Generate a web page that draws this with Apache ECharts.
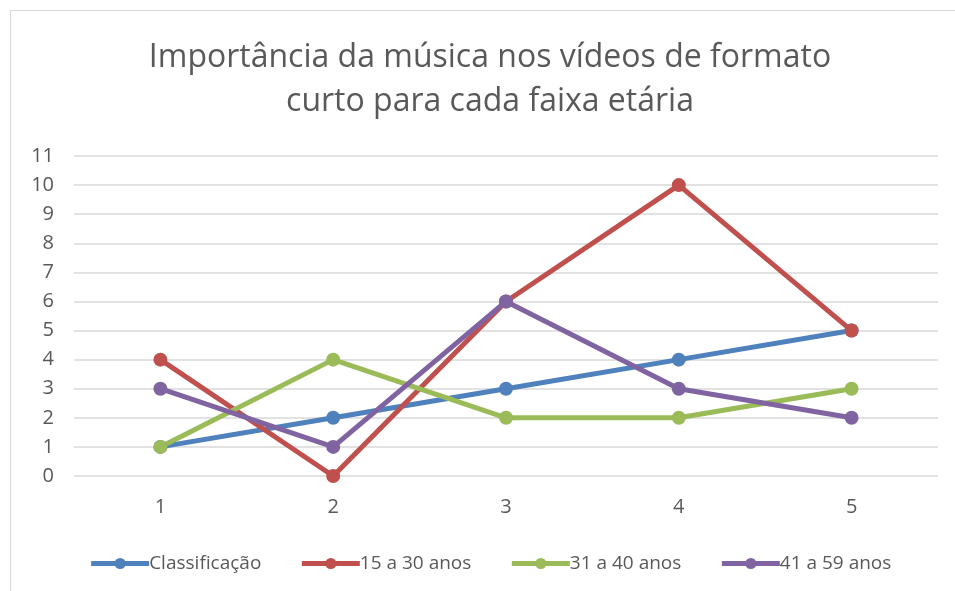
<!DOCTYPE html>
<html>
<head>
<meta charset="utf-8">
<script src="https://cdn.jsdelivr.net/npm/echarts@6/dist/echarts.min.js"></script>
<style>
  html, body { margin: 0; padding: 0; background: #fff; overflow: hidden; }
  #main { position: absolute; left: 10px; top: 10px; width: 960px; height: 600px;
          border: 1px solid #d9d9d9; box-sizing: border-box; }
</style>
</head>
<body>
<div id="main"></div>
<script>
    var categories = ['1', '2', '3', '4', '5'];
    var seriesNames = ['Classificação', '15 a 30 anos', '31 a 40 anos', '41 a 59 anos'];
    var classificacao = [1, 2, 3, 4, 5];
    var anos15a30 = [4, 0, 6, 10, 5];
    var anos31a40 = [1, 4, 2, 2, 3];
    var anos41a59 = [3, 1, 6, 3, 2];
    var colors = ['#4f81bd', '#c0504d', '#9bbb59', '#8064a2'];

    var myChart = echarts.init(document.getElementById('main'));

    var makeSeries = function (name, data, color) {
        return {
            name: name,
            type: 'line',
            data: data,
            symbol: 'circle',
            symbolSize: 14,
            itemStyle: { color: color },
            lineStyle: { color: color, width: 5 },
            emphasis: { disabled: true },
            animation: false
        };
    };

    var option = {
        title: {
            text: 'Importância da música nos vídeos de formato\ncurto para cada faixa etária',
            left: 'center',
            top: 20,
            textStyle: {
                fontFamily: 'Open Sans',
                fontWeight: 'normal',
                fontSize: 32,
                lineHeight: 44,
                color: '#595959'
            }
        },
        legend: {
            data: seriesNames,
            top: 538,
            left: 'center',
            itemWidth: 58,
            itemHeight: 14,
            itemGap: 38,
            lineStyle: { width: 5 },
            textStyle: { fontFamily: 'Open Sans', fontSize: 19, color: '#595959', padding: [0, 0, 0, -5] }
        },
        grid: {
            left: 63,
            right: 31,
            top: 145,
            bottom: 133
        },
        xAxis: {
            type: 'category',
            data: categories,
            boundaryGap: true,
            axisLine: { show: false },
            axisTick: { show: false },
            axisLabel: { fontFamily: 'Open Sans', fontSize: 20, color: '#595959', margin: 21 }
        },
        yAxis: {
            type: 'value',
            min: 0,
            max: 11,
            interval: 1,
            axisLine: { show: false },
            axisTick: { show: false },
            axisLabel: { fontFamily: 'Open Sans', fontSize: 20, color: '#595959', margin: 20 },
            splitLine: { lineStyle: { color: '#d9d9d9', width: 1.5 } }
        },
        series: [
            makeSeries(seriesNames[0], classificacao, colors[0]),
            makeSeries(seriesNames[1], anos15a30, colors[1]),
            makeSeries(seriesNames[2], anos31a40, colors[2]),
            makeSeries(seriesNames[3], anos41a59, colors[3])
        ]
    };

    myChart.setOption(option);
</script>
</body>
</html>
